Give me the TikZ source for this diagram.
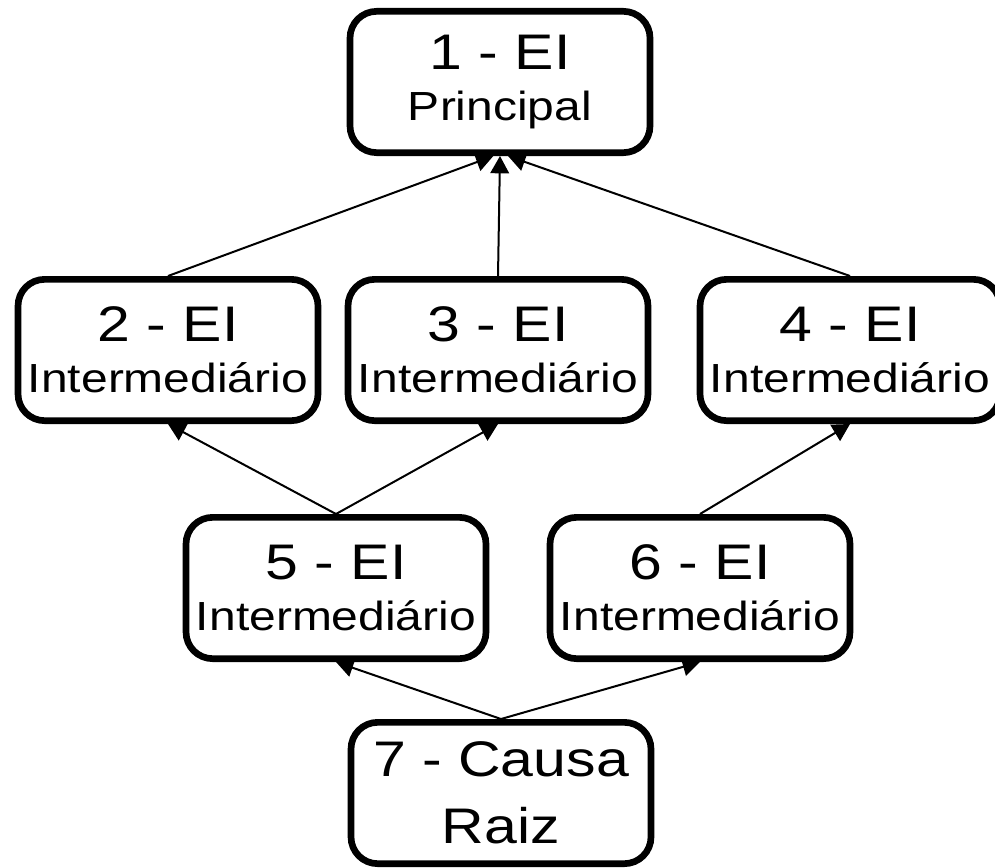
\documentclass[tikz,border=0pt]{standalone}
\usepackage{fontspec}
\setmainfont{Liberation Sans}[FakeStretch=1.18]
\usepackage{tikz}
\usetikzlibrary{arrows.meta}
\newcommand{\bigtxt}{\fontsize{37.5pt}{48pt}\selectfont}
\newcommand{\smalltxt}{\fontsize{30.5pt}{36pt}\selectfont}
\tikzset{
    box/.style={draw=black, line width=5pt, rounded corners=20pt,
        minimum width=225pt, minimum height=106pt, inner sep=1pt,
        align=center, font=\bigtxt},
    link/.style={-{Triangle[length=13pt,width=14pt]}, line width=1.5pt}}

\begin{document}
\begin{tikzpicture}[x=0.75pt, y=-0.75pt]
    \useasboundingbox (0,0) rectangle (995,867);
    \clip (0,0) rectangle (995,867);

    \node[box] (E1) at (500,82) {1 - EI\\[-10pt]{\smalltxt Principal}};
    \node[box] (E2) at (168,350) {2 - EI\\[-10pt]{\smalltxt Intermediário}};
    \node[box] (E3) at (498,350) {3 - EI\\[-10pt]{\smalltxt Intermediário}};
    \node[box] (E4) at (850,350) {4 - EI\\[-10pt]{\smalltxt Intermediário}};
    \node[box] (E5) at (336,588) {5 - EI\\[-10pt]{\smalltxt Intermediário}};
    \node[box] (E6) at (700,588) {6 - EI\\[-10pt]{\smalltxt Intermediário}};
    \node[box] (E7) at (501,793) {7 - Causa\\[2pt]Raiz};

    \draw[link] (E2.north) -- ([xshift=-5pt]E1.south);
    \draw[link] (E3.north) -- (E1.south);
    \draw[link] (E4.north) -- ([xshift=6pt]E1.south);
    \draw[link] (E5.north) -- (E2.south);
    \draw[link] (E5.north) -- (E3.south);
    \draw[link] (E6.north) -- (E4.south);
    \draw[link] (E7.north) -- (E5.south);
    \draw[link] (E7.north) -- (E6.south);

\end{tikzpicture}
\end{document}
